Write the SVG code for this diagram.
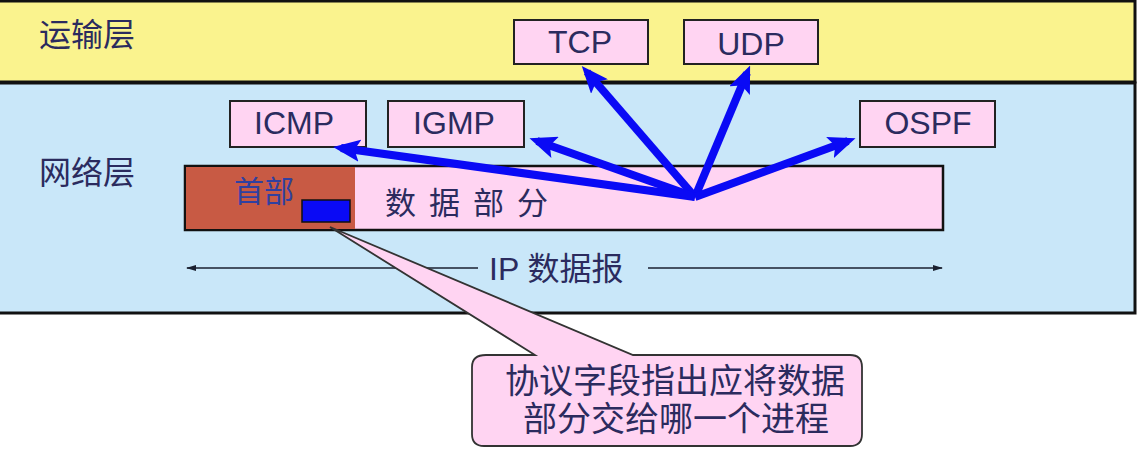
<svg xmlns="http://www.w3.org/2000/svg" width="1146" height="449" viewBox="0 0 1146 449">
<style>
.lbl{font-family:"Liberation Sans","Noto Sans CJK SC",sans-serif;fill:#2b2b5e}
.box{fill:#ffd4f2;stroke:#222;stroke-width:2}
.big{stroke:#0a0af5;stroke-width:8;fill:none;marker-end:url(#ah)}
</style>
<defs>
<marker id="ah" markerWidth="3.4" markerHeight="2.8" refX="2.4" refY="1.4" orient="auto" markerUnits="strokeWidth">
<path d="M0,0 L3.4,1.4 L0,2.8 L0.7,1.4 Z" fill="#0a0af5"/>
</marker>
<marker id="sa" markerWidth="10" markerHeight="8" refX="9" refY="4" orient="auto" markerUnits="userSpaceOnUse">
<path d="M0,1 L10,4 L0,7 Z" fill="#1a2030"/>
</marker>
</defs>
<rect width="1146" height="449" fill="#fff"/>
<g id="transport-layer">
<rect x="-2" y="1" width="1137" height="81" fill="#faf38e" stroke="#111" stroke-width="3"/>
<text class="lbl" x="39" y="46" font-size="32">运输层</text>
</g>
<g id="network-layer">
<rect x="-2" y="83" width="1137" height="230" fill="#c9e7f9" stroke="#111" stroke-width="3"/>
<text class="lbl" x="39" y="184" font-size="32">网络层</text>
</g>
<g id="tcp"><rect class="box" x="514" y="20" width="134" height="44"/><text class="lbl" x="580" y="53" font-size="32" text-anchor="middle">TCP</text></g>
<g id="udp"><rect class="box" x="684" y="20" width="134" height="44"/><text class="lbl" x="751" y="55" font-size="32" text-anchor="middle">UDP</text></g>
<g id="icmp"><rect class="box" x="230" y="101" width="136" height="46"/><text class="lbl" x="294" y="134" font-size="32" text-anchor="middle">ICMP</text></g>
<g id="igmp"><rect class="box" x="388" y="101" width="136" height="46"/><text class="lbl" x="454" y="134" font-size="32" text-anchor="middle">IGMP</text></g>
<g id="ospf"><rect class="box" x="860" y="101" width="135" height="46"/><text class="lbl" x="928" y="134" font-size="32" text-anchor="middle">OSPF</text></g>
<g id="ip-datagram">
<rect x="185" y="166" width="758" height="64" fill="#ffd4f2" stroke="#111" stroke-width="2.5"/>
<rect x="186" y="167" width="169" height="62" fill="#c85a44"/>
<text class="lbl" x="234" y="202" font-size="30" style="fill:#3040a0">首部</text>
<rect x="302" y="200" width="48" height="22" fill="#0a0af5" stroke="#111" stroke-width="1.5"/>
<text class="lbl" x="385" y="214" font-size="31" letter-spacing="13">数据部分</text>
</g>
<g id="ip-label">
<text class="lbl" x="489" y="280" font-size="32">IP 数据报</text>
</g>
<g id="connectors">
<line x1="478" y1="268" x2="187" y2="268" stroke="#1a2030" stroke-width="1.5" marker-end="url(#sa)"/>
<line x1="648" y1="268" x2="942" y2="268" stroke="#1a2030" stroke-width="1.5" marker-end="url(#sa)"/>
<line class="big" x1="695" y1="197" x2="587" y2="72"/>
<line class="big" x1="695" y1="197" x2="747" y2="73"/>
<line class="big" x1="695" y1="197" x2="341" y2="148"/>
<line class="big" x1="695" y1="197" x2="537" y2="141"/>
<line class="big" x1="695" y1="197" x2="848" y2="141"/>
</g>
<g id="callout">
<path d="M486,355 L535,355 L330,227 L633,355 L850,355 Q862,355 862,367 L862,434 Q862,446 850,446 L484,446 Q472,446 472,434 L472,367 Q472,355 486,355 Z" fill="#ffd4f2" stroke="#333" stroke-width="1.8"/>
<text class="lbl" x="505" y="393" font-size="34">协议字段指出应将数据</text>
<text class="lbl" x="523" y="431" font-size="34">部分交给哪一个进程</text>
</g>
</svg>
